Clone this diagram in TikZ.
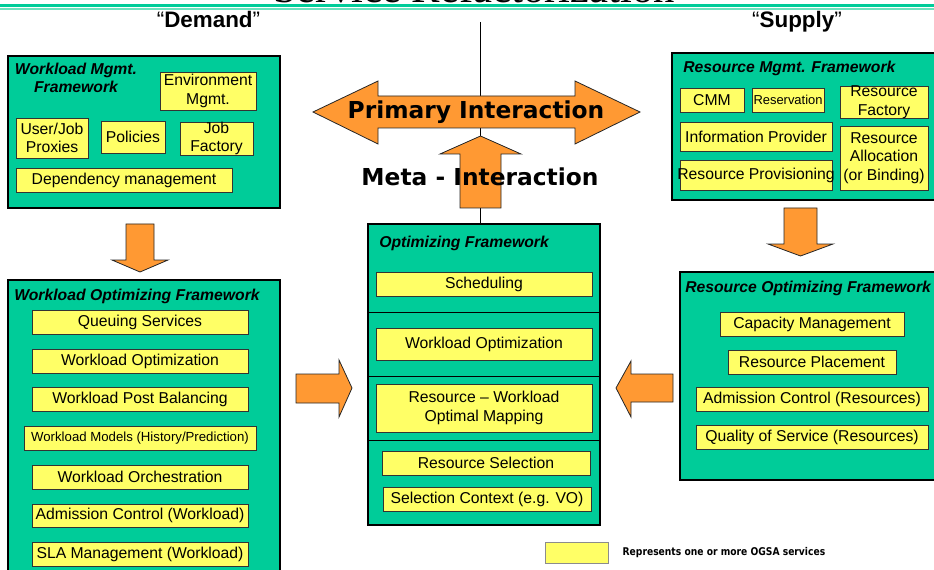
\documentclass[tikz,border=0pt]{standalone}
\usepackage{fontspec}
\setmainfont{Liberation Sans}
\newfontfamily\verdana{DejaVu Sans}
\newfontfamily\timesfont{Liberation Serif}
\usetikzlibrary{fit,positioning}
\definecolor{frameteal}{RGB}{0,204,153}
\definecolor{lineteal}{RGB}{110,225,190}
\definecolor{svcyellow}{RGB}{255,255,102}
\definecolor{floworange}{RGB}{255,153,51}
\newcommand\svcfont{\fontsize{11.8}{14}\selectfont}

\begin{document}
\begin{tikzpicture}[
    x=0.75pt, y=-0.75pt,
    frame/.style={rectangle, draw=black, line width=0.8pt, fill=frameteal, inner sep=0pt},
    svc/.style={rectangle, draw=black!80, line width=0.6pt, fill=svcyellow, inner sep=0pt},
    svctext/.style={inner sep=0pt, align=center, font=\svcfont},
    title/.style={anchor=west, inner sep=0pt, font=\bfseries\itshape\fontsize{11.8}{14}\selectfont},
    flow/.style={draw=black!85, line width=0.6pt, fill=floworange},
    bigtext/.style={inner sep=0pt, font=\verdana\bfseries\fontsize{17.5}{20}\selectfont}
]
    \useasboundingbox (0,0) rectangle (934,570);

    % heading, cut off at the top
    \node[anchor=base, inner sep=0pt, font=\timesfont\fontsize{32}{36}\selectfont] (head) at (474,3) {Service Refactorization};
    \fill[frameteal] (0,4) rectangle (934,7);
    \fill[lineteal] (0,8.3) rectangle (934,10);
    \node[anchor=base, inner sep=0pt, font=\fontsize{16.8}{18}\selectfont] (demand) at (208.5,28) {“\textbf{Demand}”};
    \node[anchor=base, inner sep=0pt, font=\fontsize{16.8}{18}\selectfont] (supply) at (797,28) {“\textbf{Supply}”};

    % frames
    \node[frame, fit={(8,56) (280,208)}] (wmf) {};
    \node[frame, fit={(672,53) (940,200)}] (rmf) {};
    \node[frame, fit={(368,224) (600,525)}] (ofw) {};
    \node[frame, fit={(8,280) (280,580)}] (wof) {};
    \node[frame, fit={(680,272) (940,480)}] (rof) {};

    \coordinate (axis) at (480,22);
    \draw[line width=0.6pt] (axis) -- (axis |- ofw.north);
    \foreach \yy in {312,376,440}
        \draw[line width=0.6pt] (368,\yy) -- (600,\yy);

    % Workload Mgmt. Framework
    \node[align=center, inner sep=0pt, font=\bfseries\itshape\fontsize{11.8}{14}\selectfont] (wmftitle) at (76,78) {Workload Mgmt.\\Framework};
    \node[svc, fit={(160,72) (256,110)}, label={[svctext]center:Environment\\Mgmt.}] (env) {};
    \node[svc, fit={(16,118) (88,158)}, label={[svctext]center:User/Job\\Proxies}] (proxy) {};
    \node[svc, fit={(101,121) (165,153)}, label={[svctext]center:Policies}] (policy) {};
    \node[svc, fit={(180,122) (253,155)}, label={[svctext]center:Job\\Factory}] (jobfac) {};
    \node[svc, fit={(16,168) (232,192)}, label={[svctext]center:Dependency management}] (depend) {};

    % Resource Mgmt. Framework
    \node[title] (rmftitle) at (683,68) {Resource Mgmt. Framework};
    \node[svc, fit={(680,88) (744,112)}, label={[svctext]center:CMM}] (cmm) {};
    \node[svc, fit={(752,88) (824,112)}, label={[svctext, font=\fontsize{9.7}{11}\selectfont]center:Reservation}] (reserve) {};
    \node[svc, fit={(840,86) (928,118)}, label={[svctext]center:Resource\\Factory}] (resfac) {};
    \node[svc, fit={(680,122) (832,151)}, label={[svctext]center:Information Provider}] (info) {};
    \node[svc, fit={(840,126) (928,190)}, label={[svctext]center:Resource\\Allocation\\(or Binding)}] (alloc) {};
    \node[svc, fit={(680,160) (832,190)}, label={[svctext]center:Resource Provisioning}] (provis) {};

    % Optimizing Framework
    \node[title] (ofwtitle) at (379,243) {Optimizing Framework};
    \node[svc, fit={(376,272) (592,296)}, label={[svctext]center:Scheduling}] (sched) {};
    \node[svc, fit={(376,328) (592,360)}, label={[svctext]center:Workload Optimization}] (wlopt) {};
    \node[svc, fit={(376,384) (592,432)}, label={[svctext]center:Resource -- Workload\\Optimal Mapping}] (mapping) {};
    \node[svc, fit={(382,451) (590,475)}, label={[svctext]center:Resource Selection}] (ressel) {};
    \node[svc, fit={(383,487) (591,511)}, label={[svctext]center:Selection Context (e.g. VO)}] (selctx) {};

    % Workload Optimizing Framework
    \node[title] (woftitle) at (14,296) {Workload Optimizing Framework};
    \node[svc, fit={(32,310) (248,334)}, label={[svctext]center:Queuing Services}] (queue) {};
    \node[svc, fit={(32,349) (248,373)}, label={[svctext]center:Workload Optimization}] (wloptb) {};
    \node[svc, fit={(32,387) (248,411)}, label={[svctext]center:Workload Post Balancing}] (post) {};
    \node[svc, fit={(24,426) (256,450)}, label={[svctext, font=\fontsize{9.9}{11}\selectfont]center:Workload Models (History/Prediction)}] (models) {};
    \node[svc, fit={(32,465) (248,489)}, label={[svctext]center:Workload Orchestration}] (orch) {};
    \node[svc, fit={(32,504) (248,527)}, label={[svctext]center:Admission Control (Workload)}] (admwl) {};
    \node[svc, fit={(32,542) (248,566)}, label={[svctext]center:SLA Management (Workload)}] (sla) {};

    % Resource Optimizing Framework
    \node[title] (roftitle) at (685,288) {Resource Optimizing Framework};
    \node[svc, fit={(720,312) (904,336)}, label={[svctext]center:Capacity Management}] (capac) {};
    \node[svc, fit={(728,350) (896,374)}, label={[svctext]center:Resource Placement}] (place) {};
    \node[svc, fit={(696,387) (928,411)}, label={[svctext]center:Admission Control (Resources)}] (admres) {};
    \node[svc, fit={(696,425) (928,449)}, label={[svctext]center:Quality of Service (Resources)}] (qos) {};

    % block arrows
    \draw[flow] (126,224) -- (154,224) -- (154,260) -- (168,260) -- (140,272) -- (112,260) -- (126,260) -- cycle;
    \draw[flow] (784,208) -- (817,208) -- (817,244) -- (833,244) -- (800.5,256) -- (768,244) -- (784,244) -- cycle;
    \draw[flow] (296,374) -- (339,374) -- (339,360) -- (352,388) -- (339,417) -- (339,403) -- (296,403) -- cycle;
    \draw[flow] (673,374) -- (631,374) -- (631,361) -- (616,388) -- (631,417) -- (631,402) -- (673,402) -- cycle;
    \draw[flow] (313,112) -- (378,81) -- (378,96) -- (575,96) -- (575,81) -- (640,112) -- (575,144) -- (575,128) -- (378,128) -- (378,144) -- cycle;
    \draw[flow] (480.5,136) -- (521,154) -- (501,154) -- (501,208) -- (460,208) -- (460,154) -- (440,154) -- cycle;
    \node[bigtext] (primary) at (476,112) {Primary Interaction};
    \node[bigtext] (meta) at (480,177) {Meta - Interaction};

    % legend
    \node[rectangle, draw=black!45, line width=0.6pt, fill=svcyellow, inner sep=0pt, fit={(545,542) (608,563)}] (legend) {};
    \node[right=14 of legend, inner sep=0pt, font=\verdana\bfseries\fontsize{8}{9}\selectfont] (legtext) {\scalebox{0.86}[1]{Represents one or more OGSA services}};
\end{tikzpicture}
\end{document}
